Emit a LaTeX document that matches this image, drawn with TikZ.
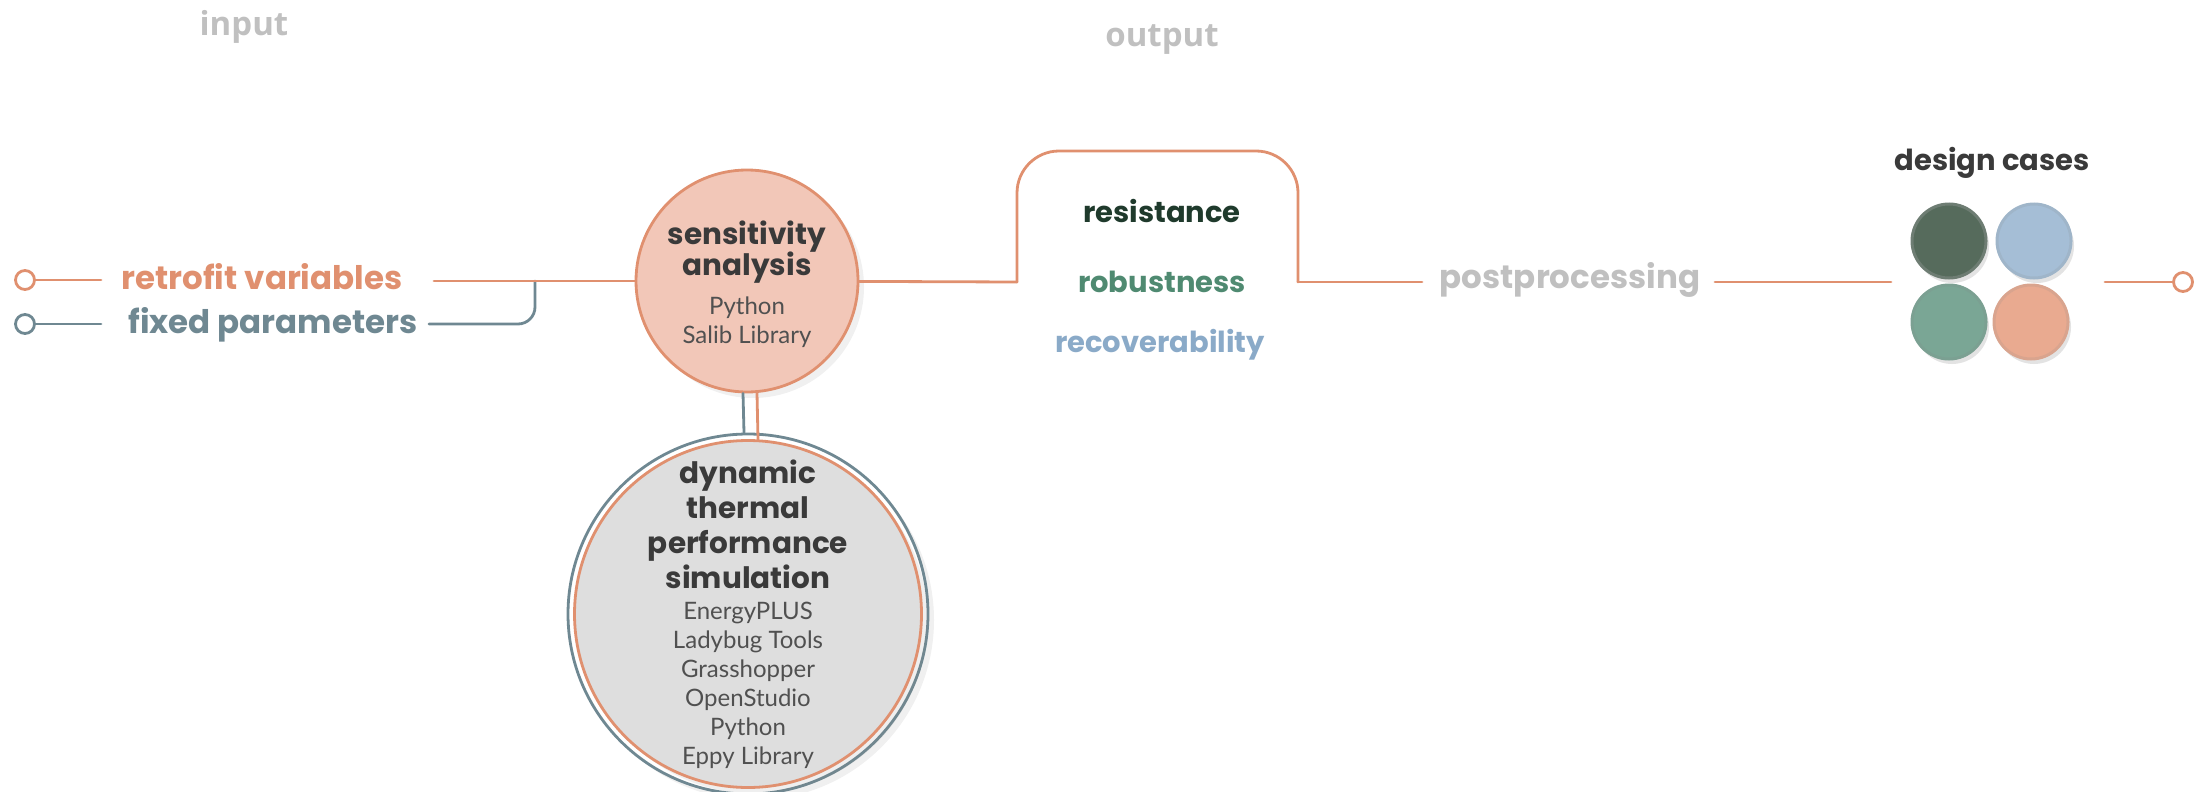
\documentclass[tikz,border=0pt]{standalone}
\usepackage{fontspec}
\setmainfont{Lato}
\newfontfamily\headfont{Poppins}
\newfontfamily\tagfont{Open Sans}
\definecolor{accent}{HTML}{E0906F}
\definecolor{slate}{HTML}{6F8892}
\definecolor{sensfill}{HTML}{F2C7B8}
\definecolor{simfill}{HTML}{DEDEDE}
\definecolor{ink}{HTML}{3A3A3A}
\definecolor{toolink}{HTML}{505050}
\definecolor{resist}{HTML}{1F3A2C}
\definecolor{robust}{HTML}{4F8A71}
\definecolor{recover}{HTML}{8AAAC8}
\definecolor{mute}{HTML}{C0C0C0}
\definecolor{caseA}{HTML}{566B5C}
\definecolor{caseB}{HTML}{A5BED6}
\definecolor{caseC}{HTML}{7AA695}
\definecolor{caseD}{HTML}{E9AA90}
\usepackage{tikz}
\usetikzlibrary{positioning, shadows, calc}
\newcommand\headtxt{\headfont\bfseries\fontsize{29.5}{29}\selectfont}
\newcommand\tooltxt{\fontsize{24}{29}\selectfont\color{toolink}}
\newcommand\ballrows{\fontsize{24}{29}\selectfont\lineskiplimit=-100pt}
\tikzset{
  wire/.style={line width=2.8pt, color=accent, line cap=round},
  slatewire/.style={wire, color=slate},
  port/.style={circle, draw=accent, line width=2.8pt, fill=white, minimum size=19pt, inner sep=0pt},
  lbl/.style={font=\headfont\bfseries\fontsize{29}{35}\selectfont, inner sep=0pt, anchor=base},
  biglbl/.style={lbl, font=\headfont\bfseries\fontsize{32.5}{38}\selectfont},
  tag/.style={font=\tagfont\bfseries\fontsize{33}{38}\selectfont, text=mute},
  ball/.style={circle, inner sep=0pt, line width=2.8pt,
               drop shadow={opacity=0.12, shadow xshift=6pt, shadow yshift=-6pt}},
  balltext/.style={align=center, inner sep=0pt, text=ink, font=\ballrows},
  casedot/.style={circle, minimum size=74pt, inner sep=0pt, line width=3pt,
               drop shadow={opacity=0.22, shadow xshift=3pt, shadow yshift=-5pt}},
}

\begin{document}
\begin{tikzpicture}[x=1pt,y=-1pt]
\useasboundingbox (0,0) rectangle (2208,792);
\node[tag] (input) at (244,27) {input};
\node[tag] (output) at (1162,40) {output};
% inputs
\node[port] (rport) at (25,280) {};
\node[port,draw=slate] (fport) at (25,324) {};
\node[biglbl,text=accent] (rvar) at (262,289) {retrofit variables};
\node[biglbl,text=slate] (fpar) at (273,333) {fixed parameters};
\coordinate (rtip) at (101,280);\coordinate (ftip) at (101,324);
\coordinate (rout) at (434,281);\coordinate (fout) at (429,324);
\coordinate (join) at (535,281);
% circles
\node[ball,draw=accent,fill=sensfill,minimum size=222pt,
  label={[balltext,yshift=-3pt]center:{\headtxt sensitivity\\[2pt]\headtxt analysis\\[10pt]\tooltxt Python\\\tooltxt Salib Library}}] (sens) at (747,281) {};
\node[ball,draw=slate,fill=white,minimum size=360pt] (simout) at (748,614) {};
\node[ball,draw=accent,fill=simfill,minimum size=347pt,drop shadow={opacity=0},
  label={[balltext]center:{\headtxt dynamic\\[6pt]\headtxt thermal\\[6pt]\headtxt performance\\[6pt]\headtxt simulation\\[2pt]%
   \tooltxt EnergyPLUS\\\tooltxt Ladybug Tools\\\tooltxt Grasshopper\\\tooltxt OpenStudio\\\tooltxt Python\\\tooltxt Eppy Library}}] (sim) at (748,614) {};
% outputs
\coordinate (bl) at (1017,282);\coordinate (tl) at (1017,151);
\coordinate (tr) at (1298,151);\coordinate (br) at (1298,282);
\node[lbl,text=resist] (resist) at (1162,222) {resistance};
\node[lbl,text=robust] (robust) at (1162,292) {robustness};
\node[lbl,text=recover] (recover) at (1160,352) {recoverability};
\node[biglbl,text=mute] (post) at (1570,288) {postprocessing};
\coordinate (postin) at (1422,282);\coordinate (postout) at (1715,282);
% design cases
\node[lbl,text=ink] (cases) at (1992,170) {design cases};
\node[casedot,fill=caseA,draw=caseA!80!gray!90!white] (caseA) at (1949,241) {};
\node[casedot,fill=caseB,draw=caseB!85!gray] (caseB) at (2034,241) {};
\node[casedot,fill=caseC,draw=caseC!85!gray] (caseC) at (1949,322) {};
\node[casedot,fill=caseD,draw=caseD!85!gray] (caseD) at (2031,322) {};
\coordinate (casein) at (1891,282);\coordinate (caseout) at (2105,282);
\node[port] (endport) at (2183,282) {};
% connectors
\draw[wire] (rport)--(rtip);
\draw[slatewire] (fport)--(ftip);
\draw[slatewire,rounded corners=17pt] (fout)-|(join);
\draw[wire] (rout)--(sens);
\draw[slatewire] ([xshift=-4pt]sens.south)--([xshift=-4pt]simout.north);
\draw[wire] ([xshift=10pt]sens.south)--([xshift=10pt]sim.north);
\draw[wire] (sens)--(bl);
\draw[wire,rounded corners=42pt] (bl)--(tl)--(tr)--(br);
\draw[wire] (br)--(postin);\draw[wire] (postout)--(casein);
\draw[wire] (caseout)--(endport);
\end{tikzpicture}
\end{document}
